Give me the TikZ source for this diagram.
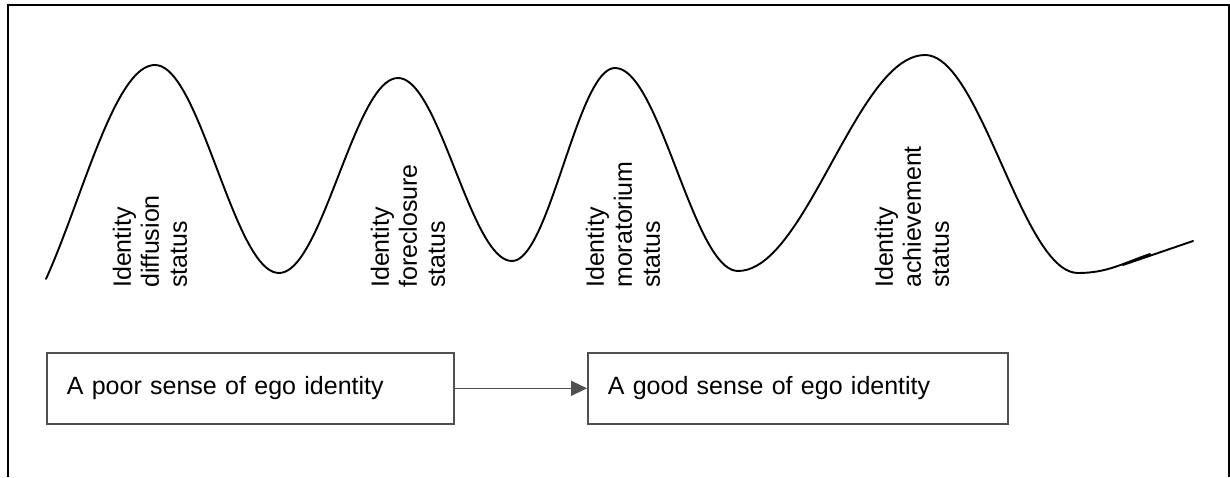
\documentclass[tikz,border=0pt]{standalone}
\usepackage{fontspec}
\setmainfont{Liberation Sans}
\usetikzlibrary{arrows.meta,positioning}
\definecolor{BoxGray}{RGB}{80, 80, 80}

\begin{document}
\begin{tikzpicture}[x=1pt, y=1pt,
    wave/.style={line width=1.9pt, line cap=round, line join=round},
    wavelabel/.style={rotate=90, anchor=west, align=left, inner sep=0pt,
      font=\fontsize{25}{28}\selectfont},
    egobox/.style={draw=BoxGray, line width=1.6pt, anchor=north west,
      minimum height=71pt, inner xsep=20pt, align=left,
      font=\fontsize{25}{28}\selectfont}]
    \useasboundingbox (0,0) rectangle (1230,477);

    % Frame (open at the bottom)
    \draw[line width=2pt] (8,0) -- (8,472) -- (1229,472) -- (1229,0);

    % Identity wave (half cosines between the turning points)
    \draw[wave, domain=0.3:1, samples=40]
      plot ({-0.7+155.7*\x}, {142.5+269.5*(1-cos(180*\x))/2});
    \foreach \xa/\ya/\xb/\yb in {155/412/279/204, 279/204/398/399,
        398/399/512/216, 512/216/615/409, 615/409/738/206,
        738/206/925/422, 925/422/1078/204}
      \draw[wave, domain=0:1, samples=40]
        plot ({\xa+(\xb-\xa)*\x}, {\ya+(\yb-\ya)*(1-cos(180*\x))/2});
    \draw[wave] (1078,204) to[out=0,in=199] (1150,223);
    \draw[wave] (1123,212) -- (1193,236);

    % Statuses
    \node[wavelabel] (diffusion) at (150,189) {Identity\\diffusion\\status};
    \node[wavelabel] (foreclosure) at (408,189) {Identity\\foreclosure\\status};
    \node[wavelabel] (moratorium) at (623,189) {Identity\\moratorium\\status};
    \node[wavelabel] (achievement) at (912,189) {Identity\\achievement\\status};

    % Ego identity
    \node[egobox, text width=367pt] (poor) at (46,125) {A poor sense of ego identity};
    \node[egobox, text width=380pt] (good) at (587,125) {A good sense of ego identity};
    \draw[BoxGray, line width=1.6pt, -{Triangle[length=16pt,width=15pt]}] (poor) -- (good);
  \end{tikzpicture}
\end{document}
